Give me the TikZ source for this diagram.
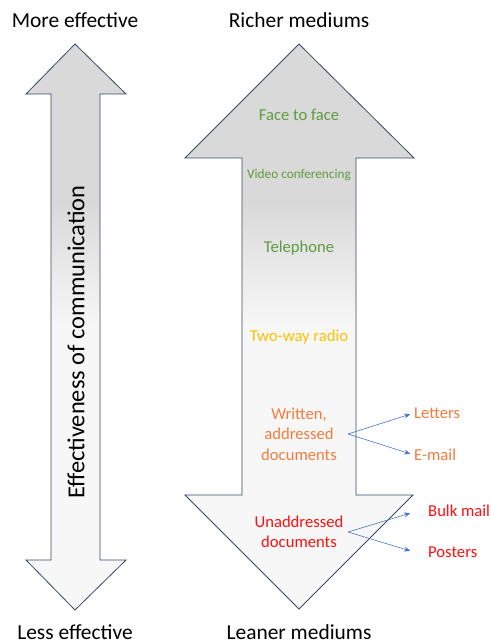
\documentclass[tikz,border=0pt]{standalone}
\usepackage{fontspec}
\setmainfont{Carlito}
\usetikzlibrary{arrows.meta}

\definecolor{outline}{HTML}{3A4766}
\definecolor{shadegray}{HTML}{D9D9D9}
\definecolor{shadelight}{HTML}{F7F7F7}
\definecolor{txtgreen}{HTML}{5F9B3F}
\definecolor{txtgold}{HTML}{FFC000}
\definecolor{txtorange}{HTML}{F47B3E}
\definecolor{txtred}{HTML}{FF0F0F}
\definecolor{linkblue}{HTML}{4A74C4}

% gray at the top, fading to near white below the middle
\pgfdeclareverticalshading{arrowfade}{100bp}{%
  color(0bp)=(shadelight); color(25bp)=(shadelight); color(50bp)=(shadelight);
  color(61bp)=(shadegray); color(75bp)=(shadegray); color(100bp)=(shadegray)}

\tikzset{
  bigarrow/.style={draw=outline, line width=0.8pt, shading=arrowfade, line join=miter},
  heading/.style={font=\fontsize{21.5}{24}\selectfont, text=black, inner sep=0pt},
  medium/.style={font=\fontsize{16.7}{20.5}\selectfont, align=center, inner sep=0pt},
  small/.style={font=\fontsize{13.3}{16}\selectfont, inner sep=0pt},
  link/.style={draw=linkblue, line width=0.6pt, -{Stealth[length=6pt,width=5pt]}, shorten >=4pt}
}

\begin{document}
\begin{tikzpicture}[x=1bp, y=-1bp]
  \useasboundingbox (0,0) rectangle (491,644);

  % double-headed arrows
  \path[bigarrow] (75,44) -- (126,94) -- (100,94) -- (100,560) -- (126,560)
    -- (75,610) -- (26,560) -- (51,560) -- (51,94) -- (26,94) -- cycle;
  \path[bigarrow] (299,44) -- (414,158) -- (356,158) -- (356,495) -- (413,495)
    -- (299,609) -- (185,495) -- (242,495) -- (242,158) -- (185,158) -- cycle;

  % headings
  \node[heading] (more) at (75,20) {More effective};
  \node[heading] (less) at (75,632) {Less effective};
  \node[heading] (richer) at (299,20) {Richer mediums};
  \node[heading] (leaner) at (299,632) {Leaner mediums};

  \node[heading, font=\fontsize{24.5}{28}\selectfont, rotate=90] (eff) at (76,342)
    {Effectiveness of communication};

  % media, richest to leanest
  \node[medium, text=txtgreen] (face) at (299,115) {Face to face};
  \node[small, text=txtgreen] (video) at (299,175) {Video conferencing};
  \node[medium, text=txtgreen] (phone) at (299,248) {Telephone};
  \node[medium, text=txtgold] (radio) at (299,337) {Two-way radio};
  \node[medium, text=txtorange] (written) at (299,434) {Written,\\addressed\\documents};
  \node[medium, text=txtred] (unaddr) at (299,532) {Unaddressed\\documents};

  % examples
  \node[medium, text=txtorange, anchor=west] (letters) at (414,413) {Letters};
  \node[medium, text=txtorange, anchor=west] (email) at (414,455) {E-mail};
  \node[medium, text=txtred, anchor=west] (bulk) at (428,511) {Bulk mail};
  \node[medium, text=txtred, anchor=west] (posters) at (428,552) {Posters};

  \coordinate (wsplit) at (348,434);
  \coordinate (usplit) at (348,532);
  \coordinate (bulkin) at (414,512);
  \coordinate (postin) at (414,552);

  \draw[link] (wsplit) -- (letters.west);
  \draw[link] (wsplit) -- (email.west);
  \draw[link] (usplit) -- (bulkin);
  \draw[link] (usplit) -- (postin);
\end{tikzpicture}
\end{document}
